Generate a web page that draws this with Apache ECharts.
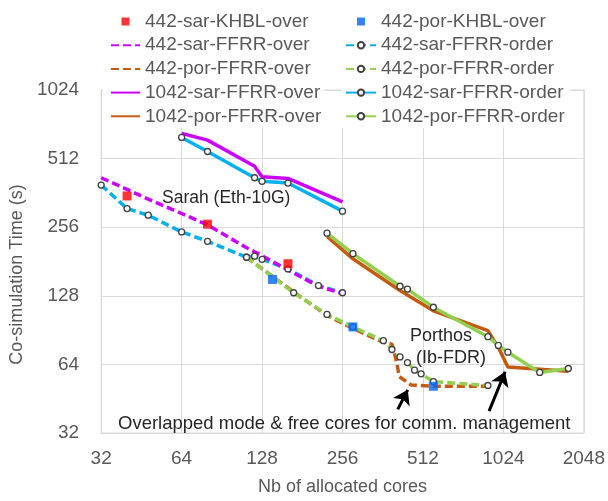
<!DOCTYPE html>
<html>
<head>
<meta charset="utf-8">
<script src="https://cdn.jsdelivr.net/npm/echarts@6/dist/echarts.min.js"></script>
<style>
html,body{margin:0;padding:0;background:#fff;}
#chart{width:608px;height:501px;}
</style>
</head>
<body>
<div id="chart"></div>
<script>
// ---- data ----
const xTicks = [32, 64, 128, 256, 512, 1024, 2048];
const yTicks = [32, 64, 128, 256, 512, 1024];

const sarKHBL442 = [[40, 351], [80, 264], [160, 177]];
const porKHBL442 = [[140, 151], [280, 93.5], [560, 51.3]];

const sarOverX442 = [32, 40, 48, 64, 80, 112, 128, 160, 208, 256];
const sarOverY442 = [422, 375, 340, 294, 262, 208, 192, 166, 141, 131];

const sarOrderX442 = [32, 40, 48, 64, 80, 112, 120, 128, 160, 208, 256];
const sarOrderY442 = [392, 309, 289, 244, 222, 189, 191, 185, 168, 142, 132];

const porOverX442 = [112, 168, 224, 280, 364, 392, 406, 418, 462, 560, 896];
const porOverY442 = [189, 133, 105, 92, 80, 78.5, 67, 56.5, 52, 51.3, 51.3];

const porOrderX442 = [112, 168, 224, 280, 364, 392, 420, 448, 476, 504, 560, 896];
const porOrderY442 = [189, 132, 106, 93.5, 81.3, 74.4, 69, 65.2, 60.4, 58.2, 53.8, 51.7];

const sarOverX1042 = [64, 80, 120, 128, 160, 256];
const sarOverY1042 = [661, 617, 474, 426, 419, 331];

const sarOrderX1042 = [64, 80, 120, 128, 160, 256];
const sarOrderY1042 = [634, 550, 422, 407, 400, 301];

const porOverX1042 = [224, 280, 420, 560, 896, 980, 1064, 1792];
const porOverY1042 = [233, 186, 135, 110, 90, 76, 62.4, 59.7];

const porOrderX1042 = [224, 280, 420, 448, 560, 896, 980, 1064, 1400, 1792];
const porOrderY1042 = [241, 196, 141, 137, 114, 84.7, 77.5, 72.4, 59, 61.4];

// annotation arrows (data coordinates: [from, to])
const arrows = [
  [[412, 40.6], [449, 49.5]],
  [[905, 39.9], [1039, 59.4]]
];

const legendLeft = ['442-sar-KHBL-over', '442-sar-FFRR-over', '442-por-FFRR-over', '1042-sar-FFRR-over', '1042-por-FFRR-over'];
const legendRight = ['442-por-KHBL-over', '442-sar-FFRR-order', '442-por-FFRR-order', '1042-sar-FFRR-order', '1042-por-FFRR-order'];

// ---- helpers ----
const zip = (xs, ys) => xs.map((x, i) => [x, ys[i]]);
const FONT = 'Liberation Sans';
const GREY = '#595959';
const C = {
  magenta: '#CC00FF', blue: '#00B0F0', orange: '#C55A11', green: '#92D050',
  red: '#FF0000', sqBlue: '#0066FF'
};
const dash = [8, 4];
const marker = { color: '#fff', borderColor: '#404040', borderWidth: 1.3 };

function lineSeries(name, data, color, dashed, withMarkers, z) {
  return {
    name, type: 'line', data,
    z: z,
    symbol: withMarkers ? 'circle' : 'none',
    symbolSize: 6,
    showSymbol: withMarkers,
    itemStyle: withMarkers ? Object.assign({}, marker) : { color },
    lineStyle: { color, width: 3.5, type: dashed ? dash : 'solid', cap: 'butt' },
    emphasis: { disabled: true },
    animation: false
  };
}

const squareIcon = 'path://M0,0H10V10H0Z';
const markerNames = ['442-sar-FFRR-order', '442-por-FFRR-order', '1042-sar-FFRR-order', '1042-por-FFRR-order'];

function legendItem(n) {
  if (n.indexOf('KHBL') > -1) return { name: n, icon: squareIcon };
  if (markerNames.indexOf(n) < 0) return { name: n, itemStyle: { opacity: 0 } };
  return { name: n };
}

const chart = echarts.init(document.getElementById('chart'), null, { renderer: 'canvas' });

const legendText = { fontFamily: FONT, fontSize: 19, color: GREY, lineHeight: 19 };

const option = {
  animation: false,
  backgroundColor: '#fff',
  grid: {
    left: 97, right: 23, top: 90, bottom: 62,
    show: true, borderColor: '#D9D9D9', borderWidth: 1, containLabel: false
  },
  xAxis: {
    type: 'log', logBase: 2,
    min: xTicks[0], max: xTicks[xTicks.length - 1], interval: 1,
    name: 'Nb of allocated cores', nameLocation: 'middle', nameGap: 45,
    nameTextStyle: { fontFamily: FONT, fontSize: 18, color: GREY },
    axisLine: { lineStyle: { color: '#D9D9D9' } },
    axisTick: { show: false },
    splitLine: { show: true, lineStyle: { color: '#D9D9D9', width: 1 } },
    axisLabel: {
      fontFamily: FONT, fontSize: 19, color: GREY, margin: 16,
      formatter: v => String(Math.round(v))
    }
  },
  yAxis: {
    type: 'log', logBase: 2,
    min: yTicks[0], max: yTicks[yTicks.length - 1], interval: 1,
    name: 'Co-simulation Time (s)', nameLocation: 'middle', nameGap: 65,
    nameTextStyle: { fontFamily: FONT, fontSize: 18, color: GREY, padding: [0, 26, 0, 0] },
    axisLine: { show: true, lineStyle: { color: '#D9D9D9' } },
    axisTick: { show: false },
    splitLine: { show: true, lineStyle: { color: '#D9D9D9', width: 1 } },
    axisLabel: {
      fontFamily: FONT, fontSize: 19, color: GREY, margin: 22,
      formatter: v => String(Math.round(v))
    }
  },
  legend: [
    {
      orient: 'vertical', left: 103, top: 8,
      padding: [4, 3, 2, 7],
      backgroundColor: '#fff',
      itemWidth: 29, itemHeight: 8, itemGap: 4.7,
      selectedMode: false,
      textStyle: legendText,
      data: legendLeft.map(legendItem)
    },
    {
      orient: 'vertical', left: 341, top: 8,
      padding: [4, 6, 2, 4],
      backgroundColor: '#fff',
      itemWidth: 30, itemHeight: 8, itemGap: 4.7,
      selectedMode: false,
      textStyle: legendText,
      data: legendRight.map(legendItem)
    }
  ],
  series: [
    lineSeries('442-sar-FFRR-order', zip(sarOrderX442, sarOrderY442), C.blue, true, true, 2),
    lineSeries('442-sar-FFRR-over', zip(sarOverX442, sarOverY442), C.magenta, true, false, 2),
    Object.assign(lineSeries('442-por-FFRR-over', zip(porOverX442, porOverY442), C.orange, true, false, 2), {
      markLine: {
        silent: true, animation: false,
        symbol: ['none', 'arrow'], symbolSize: 14,
        label: { show: false },
        lineStyle: { color: '#000', width: 3, type: 'solid' },
        data: arrows.map(a => [{ coord: a[0] }, { coord: a[1] }])
      }
    }),
    lineSeries('442-por-FFRR-order', zip(porOrderX442, porOrderY442), C.green, true, true, 2),
    lineSeries('1042-sar-FFRR-over', zip(sarOverX1042, sarOverY1042), C.magenta, false, false, 2),
    lineSeries('1042-sar-FFRR-order', zip(sarOrderX1042, sarOrderY1042), C.blue, false, true, 2),
    lineSeries('1042-por-FFRR-over', zip(porOverX1042, porOverY1042), C.orange, false, false, 2),
    lineSeries('1042-por-FFRR-order', zip(porOrderX1042, porOrderY1042), C.green, false, true, 2),
    {
      name: '442-sar-KHBL-over', type: 'scatter', data: sarKHBL442, z: 5,
      symbol: 'rect', symbolSize: 9, itemStyle: { color: C.red }, emphasis: { disabled: true }
    },
    {
      name: '442-por-KHBL-over', type: 'scatter', data: porKHBL442, z: 5,
      symbol: 'rect', symbolSize: 9, itemStyle: { color: C.sqBlue }, emphasis: { disabled: true }
    }
  ],
  graphic: [
    { type: 'text', left: 162, top: 189, z: 10,
      style: { text: 'Sarah (Eth-10G)', font: '17.5px "Liberation Sans"', fill: '#262626' } },
    { type: 'text', left: 410, top: 327, z: 10,
      style: { text: 'Porthos', font: '18px "Liberation Sans"', fill: '#262626' } },
    { type: 'text', left: 416, top: 349, z: 10,
      style: { text: '(Ib-FDR)', font: '18px "Liberation Sans"', fill: '#262626' } },
    { type: 'text', left: 118, top: 414, z: 10,
      style: { text: 'Overlapped mode & free cores for comm. management', font: '18.5px "Liberation Sans"', fill: '#262626' } }
  ]
};

chart.setOption(option);
</script>
</body>
</html>
